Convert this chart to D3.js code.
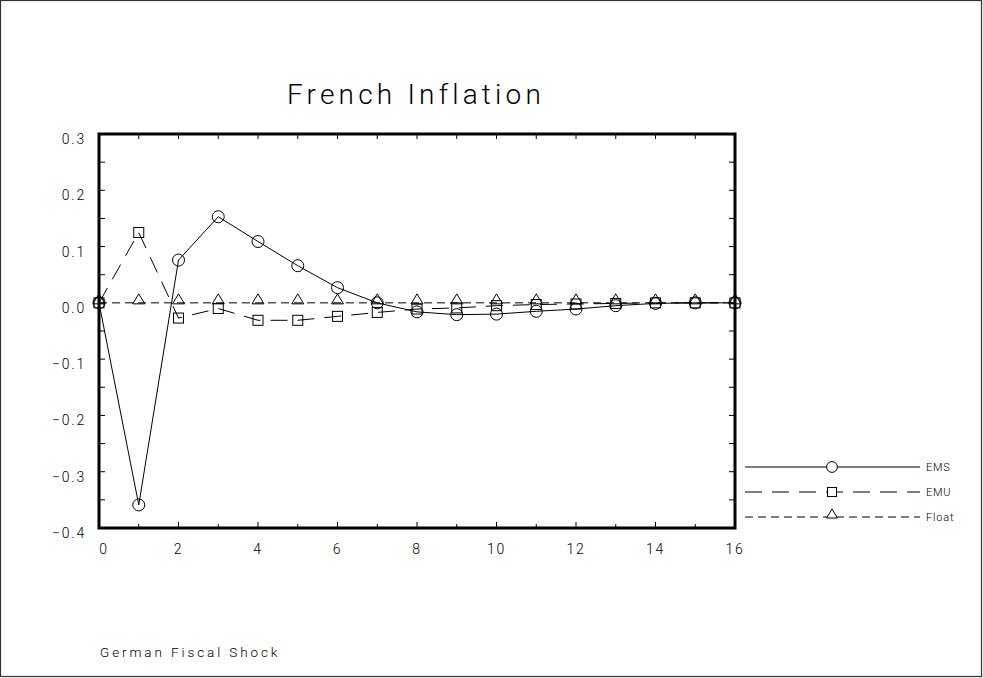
<!DOCTYPE html>
<html><head><meta charset="utf-8">
<script src="https://cdn.jsdelivr.net/npm/d3@7"></script>
<style>
html,body{margin:0;padding:0;background:#fff;}
text{font-family:"Roboto","DejaVu Sans",sans-serif;font-weight:300;fill:#000;}
</style></head>
<body><svg id="c" width="983" height="678"></svg>
<script>
const periods = [0,1,2,3,4,5,6,7,8,9,10,11,12,13,14,15,16];
const ems   = [0.0,-0.359,0.076,0.153,0.109,0.066,0.027,0.000,-0.016,-0.021,-0.020,-0.015,-0.011,-0.005,-0.001,0.000,0.000];
const emu   = [0.0,0.125,-0.027,-0.010,-0.031,-0.031,-0.024,-0.017,-0.011,-0.009,-0.005,-0.003,-0.002,-0.001,0.000,0.000,0.000];
const float = [0,0,0,0,0,0,0,0,0,0,0,0,0,0,0,0,0];
const xTicks = [0,2,4,6,8,10,12,14,16];
const yTicks = [0.3,0.2,0.1,0.0,-0.1,-0.2,-0.3,-0.4];
const seriesNames = ["EMS","EMU","Float"];
const title = "French Inflation";
const note = "German Fiscal Shock";

const svg = d3.select("#c");
const L=99, R=735, T=134, B=528;
const x = d3.scaleLinear().domain([0,16]).range([L,R]);
const y = d3.scaleLinear().domain([-0.4,0.3]).range([B,T]);

// outer frame
svg.append("rect").attr("x",0.5).attr("y",0.5).attr("width",981).attr("height",676)
  .attr("fill","none").attr("stroke","#333").attr("stroke-width",1.2);

// title
svg.append("text").attr("x",416).attr("y",104).attr("text-anchor","middle")
  .style("font-size","28px").style("letter-spacing","4.2px").text(title);

// axes ticks
const g = svg.append("g");
const minorY = d3.range(-0.4,0.3001,0.05);
minorY.forEach(v=>{
  g.append("line").attr("x1",L).attr("x2",L+6).attr("y1",y(v)).attr("y2",y(v)).attr("stroke","#000").attr("stroke-width",1);
  g.append("line").attr("x1",R-6).attr("x2",R).attr("y1",y(v)).attr("y2",y(v)).attr("stroke","#000").attr("stroke-width",1);
});
d3.range(0,17,1).forEach(v=>{
  g.append("line").attr("x1",x(v)).attr("x2",x(v)).attr("y1",T).attr("y2",T+5).attr("stroke","#000").attr("stroke-width",1);
  g.append("line").attr("x1",x(v)).attr("x2",x(v)).attr("y1",B).attr("y2",B-(v%2===0?6:4)).attr("stroke","#000").attr("stroke-width",1);
});
// tick labels
const fmt = d3.format(".1f");
yTicks.forEach(v=>{
  g.append("text").attr("x",86).attr("y",y(v)+10).attr("text-anchor","end")
   .style("font-size","14px").style("letter-spacing","1.8px")
   .text(fmt(v).replace("-","\u2212"));
});
xTicks.forEach(v=>{
  g.append("text").attr("x",x(v)+(v===0?5:0)).attr("y",554).attr("text-anchor","middle")
   .style("font-size","14px").style("letter-spacing","1.8px").text(v);
});

// series
const line = d3.line().x((d,i)=>x(periods[i])).y(d=>y(d));
const sdef = [
  {name:seriesNames[0], data:ems, dash:null, shape:"circle"},
  {name:seriesNames[1], data:emu, dash:"17,10", shape:"square"},
  {name:seriesNames[2], data:float, dash:"8,5", shape:"triangle"}
];
function marker(sel, shape, cx, cy, s){
  s = s||1;
  if(shape==="circle") sel.append("circle").attr("cx",cx).attr("cy",cy).attr("r",6*s);
  else if(shape==="square") sel.append("rect").attr("x",cx-5*s).attr("y",cy-5*s).attr("width",10*s).attr("height",10*s);
  else sel.append("path").attr("d",`M${cx-6*s},${cy+1}L${cx},${cy-9*s}L${cx+6*s},${cy+1}Z`);
}
const plot = svg.append("g");
sdef.slice().reverse().forEach(s=>{
  plot.append("path").attr("d",line(s.data)).attr("fill","none").attr("stroke","#000")
    .attr("stroke-width",1).attr("stroke-dasharray",s.dash);
});
sdef.forEach(s=>{
  const mg = plot.append("g").attr("fill","none").attr("stroke","#000").attr("stroke-width",1);
  s.data.forEach((d,i)=>marker(mg,s.shape,x(periods[i]),y(d)));
});

// frame
svg.append("rect").attr("x",L).attr("y",T).attr("width",R-L).attr("height",B-T)
  .attr("fill","none").attr("stroke","#000").attr("stroke-width",3);

// legend
const ly = [467,492,517];
sdef.forEach((s,i)=>{
  const lg = svg.append("g").attr("fill","none").attr("stroke","#000").attr("stroke-width",1);
  lg.append("line").attr("x1",745).attr("x2",920).attr("y1",ly[i]).attr("y2",ly[i]).attr("stroke-dasharray",s.dash);
  const mg = lg.append("g").attr("fill","#fff");
  marker(mg,s.shape,832,ly[i],0.9);
  svg.append("text").attr("x",926).attr("y",ly[i]+4).style("font-size","11px").style("letter-spacing","0.8px").text(s.name);
});

svg.append("text").attr("x",100).attr("y",657).style("font-size","13.5px").style("letter-spacing","2.9px").text(note);
</script></body></html>
